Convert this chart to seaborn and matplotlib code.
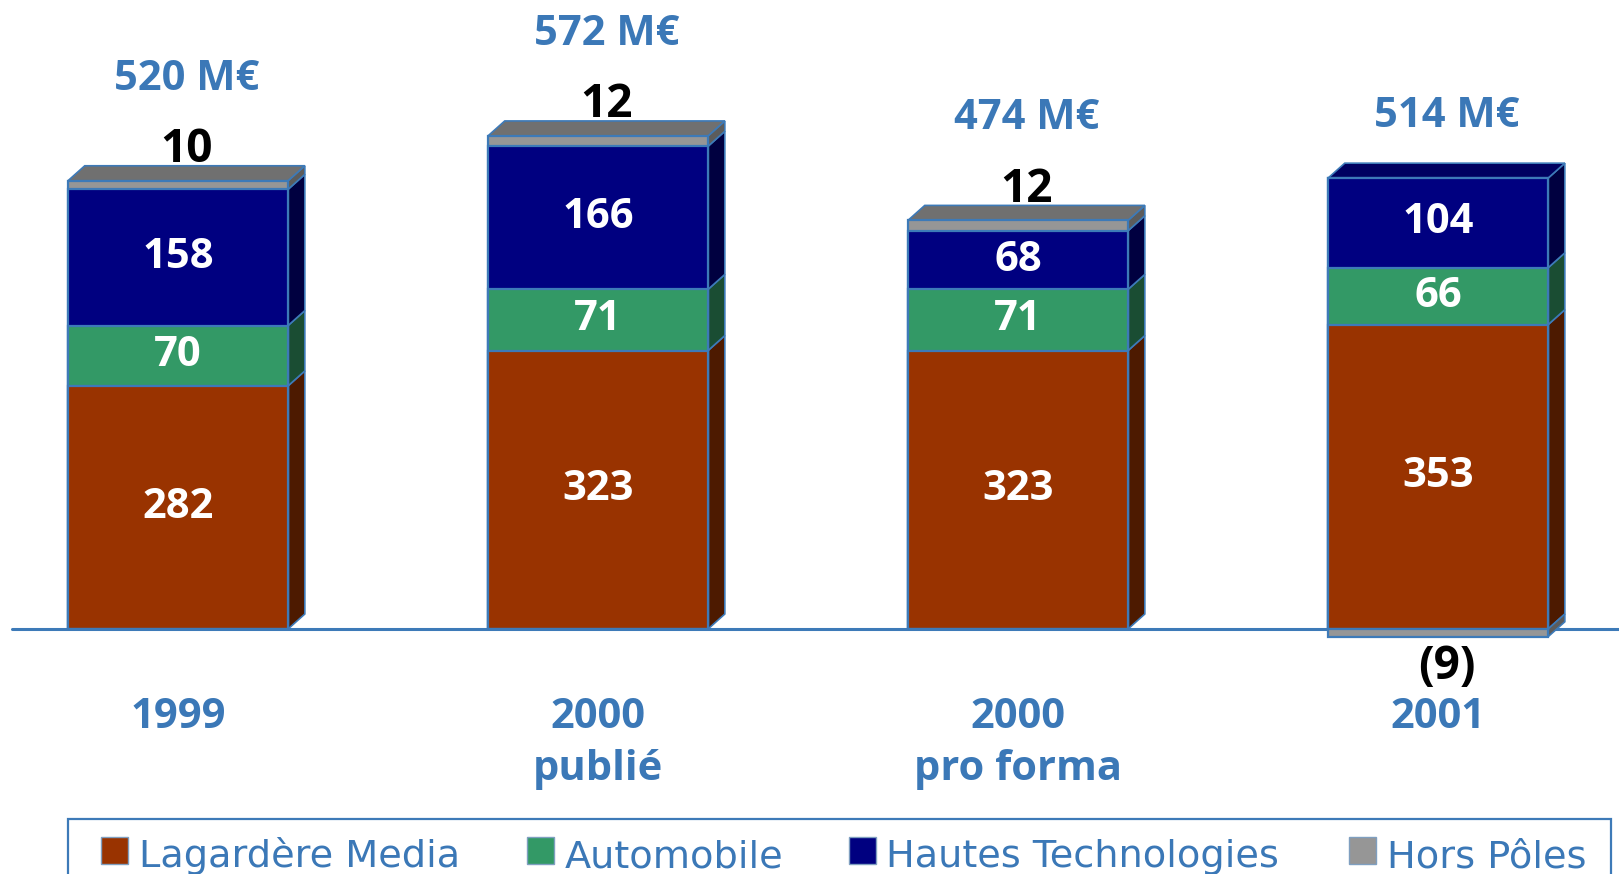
import numpy as np
import matplotlib.pyplot as plt
from matplotlib.patches import Polygon, Rectangle
import seaborn as sns

# --- data (M€) ---
years = ["1999", "2000\npublié", "2000\npro forma", "2001"]
media = [282, 323, 323, 353]
auto = [70, 71, 71, 66]
hautes_tech = [158, 166, 68, 104]
hors_poles = [10, 12, 12, -9]
totals = ["520 M€", "572 M€", "474 M€", "514 M€"]

segments = ["Lagardère Media", "Automobile", "Hautes Technologies", "Hors Pôles"]
front_colors = ["#993300", "#339966", "#000080", "#969696"]
side_colors = ["#4d1a00", "#1a4d33", "#000040", "#5c5c5c"]
top_colors = ["#6b2400", "#23704a", "#000060", "#707070"]
EDGE = "#3d7ab8"
BLUE_TXT = "#3b78b7"

W = 0.524            # bar width (category units)
DX, DY = 0.040, 17.4  # fake 3d depth

sns.set_theme(style="white")
plt.rcParams["font.family"] = ["Open Sans", "DejaVu Sans"]

values = np.array([media, auto, hautes_tech, hors_poles], dtype=float)
pos = np.clip(values, 0, None)
neg = np.clip(values, None, 0)
tops = pos.cumsum(axis=0)
bottoms = tops - pos
neg_bottoms = neg.cumsum(axis=0)
neg_tops = neg_bottoms - neg

fig = plt.figure(figsize=(16.19, 8.74), dpi=100)
ax = fig.add_axes([0, 0, 1, 1])

# front faces: cumulative bars, drawn from the top layer down
for k in range(3, -1, -1):
    sns.barplot(x=years, y=tops[k], order=years, color=front_colors[k], width=W,
                saturation=1, errorbar=None, edgecolor=EDGE, linewidth=1.6,
                ax=ax, zorder=3)
for k in range(4):
    if (neg[k] < 0).any():
        sns.barplot(x=years, y=neg[k], order=years, color=front_colors[k], width=W,
                    saturation=1, errorbar=None, edgecolor=EDGE, linewidth=1.6,
                    ax=ax, zorder=3)

# side and top faces
for i in range(len(years)):
    x0, x1 = i - W / 2, i + W / 2
    for k in range(4):
        for b, t in [(bottoms[k, i], tops[k, i]), (neg_bottoms[k, i], neg_tops[k, i])]:
            if t > b:
                ax.add_patch(Polygon([(x1, b), (x1 + DX, b + DY), (x1 + DX, t + DY), (x1, t)],
                                     closed=True, facecolor=side_colors[k], edgecolor=EDGE,
                                     linewidth=1.2, zorder=2))
    k_top = max(k for k in range(4) if pos[k, i] > 0)
    T = tops[-1, i]
    ax.add_patch(Polygon([(x0, T), (x0 + DX, T + DY), (x1 + DX, T + DY), (x1, T)],
                         closed=True, facecolor=top_colors[k_top], edgecolor=EDGE,
                         linewidth=1.2, zorder=2))

    # labels inside the bars
    for k in range(3):
        ax.text(i, (bottoms[k, i] + tops[k, i]) / 2, f"{int(values[k, i])}",
                color="white", fontsize=30, fontweight="bold",
                ha="center", va="center", zorder=5)

    # hors pôles label
    h = hors_poles[i]
    if h > 0:
        ax.text(i + DX / 2, T + 36, f"{h}", color="black", fontsize=33,
                fontweight="bold", ha="center", va="center", zorder=5)
    else:
        ax.text(i + DX / 2, neg_bottoms[-1, i] - 34, f"({abs(h)})", color="black",
                fontsize=33, fontweight="bold", ha="center", va="center", zorder=5)

    # totals
    off = 118 if h > 0 else 71
    ax.text(i + DX / 2, T + off, totals[i], color=BLUE_TXT, fontsize=30,
            fontweight="bold", ha="center", va="center", zorder=5)

    # category label
    ax.text(i, -79, years[i], color=BLUE_TXT, fontsize=30, fontweight="bold",
            ha="center", va="top", linespacing=1.35, zorder=5)

ax.axhline(0, xmin=12 / 1619, xmax=1, color=EDGE, linewidth=2.2, zorder=1)

ax.set_xlim(-178 / 420, (1619 - 178) / 420)
ax.set_ylim(-245 / 0.862, 629 / 0.862)
ax.set_axis_off()

# legend box (cut by the bottom of the slide)
def fx(px):
    return px / 1619

def fy(py):
    return 1 - py / 874

ax.add_patch(Rectangle((fx(68), fy(890)), fx(1611) - fx(68), fy(819) - fy(890),
                       transform=ax.transAxes, fill=False, edgecolor=EDGE,
                       linewidth=1.6, clip_on=False, zorder=6))
marker_x = [101, 527, 849, 1349]
text_x = [139, 565, 886, 1387]
for k in range(4):
    ax.add_patch(Rectangle((fx(marker_x[k]), fy(864)), fx(27), fy(837) - fy(864),
                           transform=ax.transAxes, facecolor=front_colors[k],
                           edgecolor="#7f9fc0", linewidth=1, clip_on=False, zorder=6))
    ax.text(fx(text_x[k]), fy(867), segments[k], transform=ax.transAxes,
            color=BLUE_TXT, fontsize=27.5, family=["DejaVu Sans"],
            ha="left", va="baseline", zorder=6)

fig.savefig("out.png", dpi=100)
